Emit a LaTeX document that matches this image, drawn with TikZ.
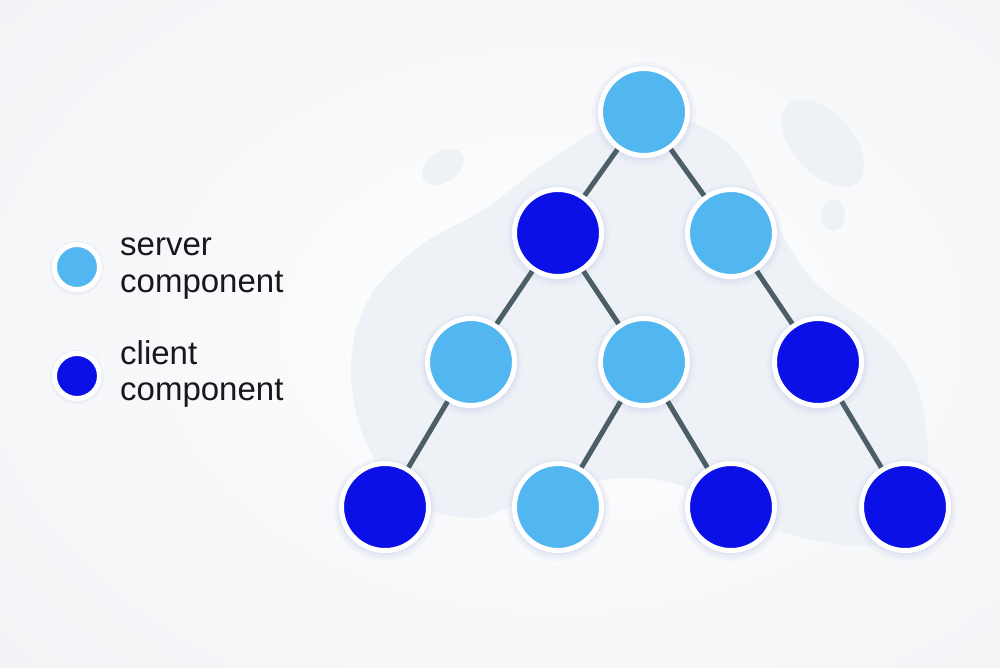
\documentclass[tikz,border=0pt]{standalone}
\usepackage{fontspec}
\setmainfont{Liberation Sans}
\definecolor{bgc}{HTML}{F0F2F5}
\definecolor{blobc}{HTML}{EEF2F7}
\definecolor{srv}{HTML}{52B6F0}
\definecolor{cli}{HTML}{0A10E6}
\definecolor{edgec}{HTML}{4B5F67}
\definecolor{glowc}{HTML}{C9CDEB}
\definecolor{txtc}{HTML}{16181C}
\tikzset{
  comp/.style={circle, draw=white, line width=5pt, minimum size=87pt, inner sep=0pt},
  server/.style={comp, fill=srv},
  client/.style={comp, fill=cli},
  legserver/.style={circle, draw=white, line width=5pt, minimum size=45pt, inner sep=0pt, fill=srv},
  legclient/.style={circle, draw=white, line width=5pt, minimum size=45pt, inner sep=0pt, fill=cli},
  link/.style={draw=edgec, line width=5pt},
  legtext/.style={anchor=base west, inner sep=0pt, font=\fontsize{33}{37}\selectfont, text=txtc},
  blob/.style={fill=blobc}
}
\newcommand{\glow}[2]{%
  \fill[glowc, opacity=0.10] (#1,#2+2) circle (52);
  \fill[glowc, opacity=0.15] (#1,#2+2) circle (49.5);
  \fill[glowc, opacity=0.25] (#1,#2+1) circle (47.5);
}
\begin{document}
\begin{tikzpicture}[x=1pt, y=-1pt]
\useasboundingbox (0,0) rectangle (1000,667);
% background
\begin{scope}
\clip (0,0) rectangle (1000,667);
\begin{scope}[shift={(560,330)}, yscale=0.7]
\fill[inner color=white, outer color=bgc] (-800,-800) rectangle (800,800);
\end{scope}
\end{scope}
% blobs
\fill[blob] plot[smooth cycle, tension=0.6] coordinates {
 (351,367) (368,300) (418,247) (483,210) (540,167) (598,130) (645,116)
 (690,122) (732,147) (762,193) (789,247) (820,287) (873,327) (908,367)
 (925,420) (926,480) (905,532) (860,546) (776,530) (688,488) (625,478)
 (560,490) (515,505) (471,518) (410,500) (365,440)};
\fill[blob, rotate around={35:(443,167)}] (443,167) ellipse (23 and 15);
\fill[blob, rotate around={-48:(823,143)}] (823,143) ellipse (52 and 30);
\fill[blob] (833,215) ellipse (12 and 16);
% glows
\glow{644}{112}
\glow{558}{233}\glow{731}{233}
\glow{471}{362}\glow{644}{362}\glow{818}{362}
\glow{385}{507}\glow{558}{507}\glow{731}{507}\glow{905}{507}
% nodes
\node[server] (n1) at (644,112) {};
\node[client] (n2) at (558,233) {};
\node[server] (n3) at (731,233) {};
\node[server] (n4) at (471,362) {};
\node[server] (n5) at (644,362) {};
\node[client] (n6) at (818,362) {};
\node[client] (n7) at (385,507) {};
\node[server] (n8) at (558,507) {};
\node[client] (n9) at (731,507) {};
\node[client] (n10) at (905,507) {};
% links
\draw[link] (n1) -- (n2);
\draw[link] (n1) -- (n3);
\draw[link] (n2) -- (n4);
\draw[link] (n2) -- (n5);
\draw[link] (n3) -- (n6);
\draw[link] (n4) -- (n7);
\draw[link] (n5) -- (n8);
\draw[link] (n5) -- (n9);
\draw[link] (n6) -- (n10);
% legend
\fill[glowc, opacity=0.2] (77,268) circle (27);
\fill[glowc, opacity=0.2] (77,377) circle (27);
\node[legserver] (ls) at (77,267) {};
\node[legclient] (lc) at (77,376) {};
\node[legtext] (ts1) at (120,255) {server};
\node[legtext] (ts2) at (120,292) {component};
\node[legtext] (tc1) at (120,364) {client};
\node[legtext] (tc2) at (120,400) {component};
\end{tikzpicture}
\end{document}
